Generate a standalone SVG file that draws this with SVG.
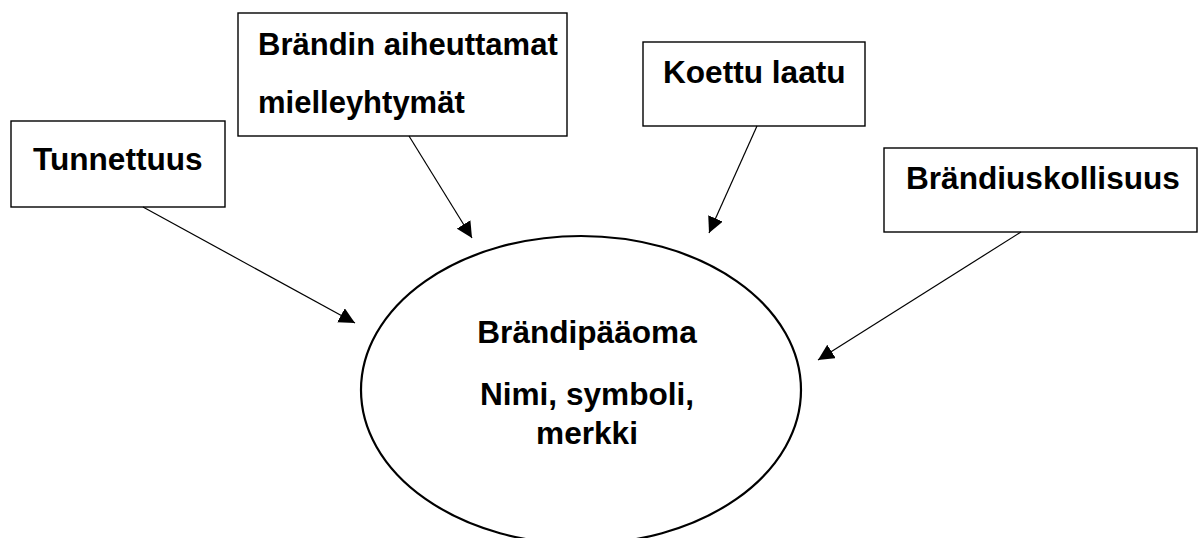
<svg xmlns="http://www.w3.org/2000/svg" width="1200" height="538" viewBox="0 0 1200 538">
<style>
.box{fill:#fff;stroke:#000;stroke-width:1.4}
.lbl{font-family:"Liberation Sans",Arial,sans-serif;font-weight:bold;font-size:31.6px;fill:#000}
.lbl.tight{font-size:31px}
.mid{text-anchor:middle}
.conn line{stroke:#000;stroke-width:1.2}
</style>
<defs>
<marker id="ah" viewBox="0 0 10 10" refX="10" refY="5" markerWidth="16" markerHeight="16" markerUnits="userSpaceOnUse" orient="auto">
<path d="M0,0 L10,5 L0,10 Z" fill="#000"/>
</marker>
</defs>
<rect width="1200" height="538" fill="#fff"/>
<g id="n-tunnettuus">
<rect class="box" x="11" y="121" width="214" height="86"/>
<text class="lbl" x="33" y="170">Tunnettuus</text>
</g>
<g id="n-mielleyhtymat">
<rect class="box" x="238" y="13" width="329" height="123"/>
<text class="lbl tight" x="258" y="55">Brändin aiheuttamat</text>
<text class="lbl tight" x="258" y="113">mielleyhtymät</text>
</g>
<g id="n-laatu">
<rect class="box" x="643" y="42" width="222" height="84"/>
<text class="lbl" x="663" y="83">Koettu laatu</text>
</g>
<g id="n-uskollisuus">
<rect class="box" x="884" y="148" width="313" height="84"/>
<text class="lbl" x="906" y="189">Brändiuskollisuus</text>
</g>
<g id="n-paaoma">
<ellipse cx="581" cy="390" rx="220" ry="154" fill="#fff" stroke="#000" stroke-width="2.2"/>
<text class="lbl mid" x="587" y="343">Brändipääoma</text>
<text class="lbl mid" x="587" y="405">Nimi, symboli,</text>
<text class="lbl mid" x="587" y="444">merkki</text>
</g>
<g class="conn" id="connectors">
<line x1="143" y1="207" x2="355" y2="323" marker-end="url(#ah)"/>
<line x1="409" y1="136" x2="472" y2="238" marker-end="url(#ah)"/>
<line x1="757" y1="126" x2="709" y2="233" marker-end="url(#ah)"/>
<line x1="1021" y1="232" x2="818" y2="360" marker-end="url(#ah)"/>
</g>
</svg>
